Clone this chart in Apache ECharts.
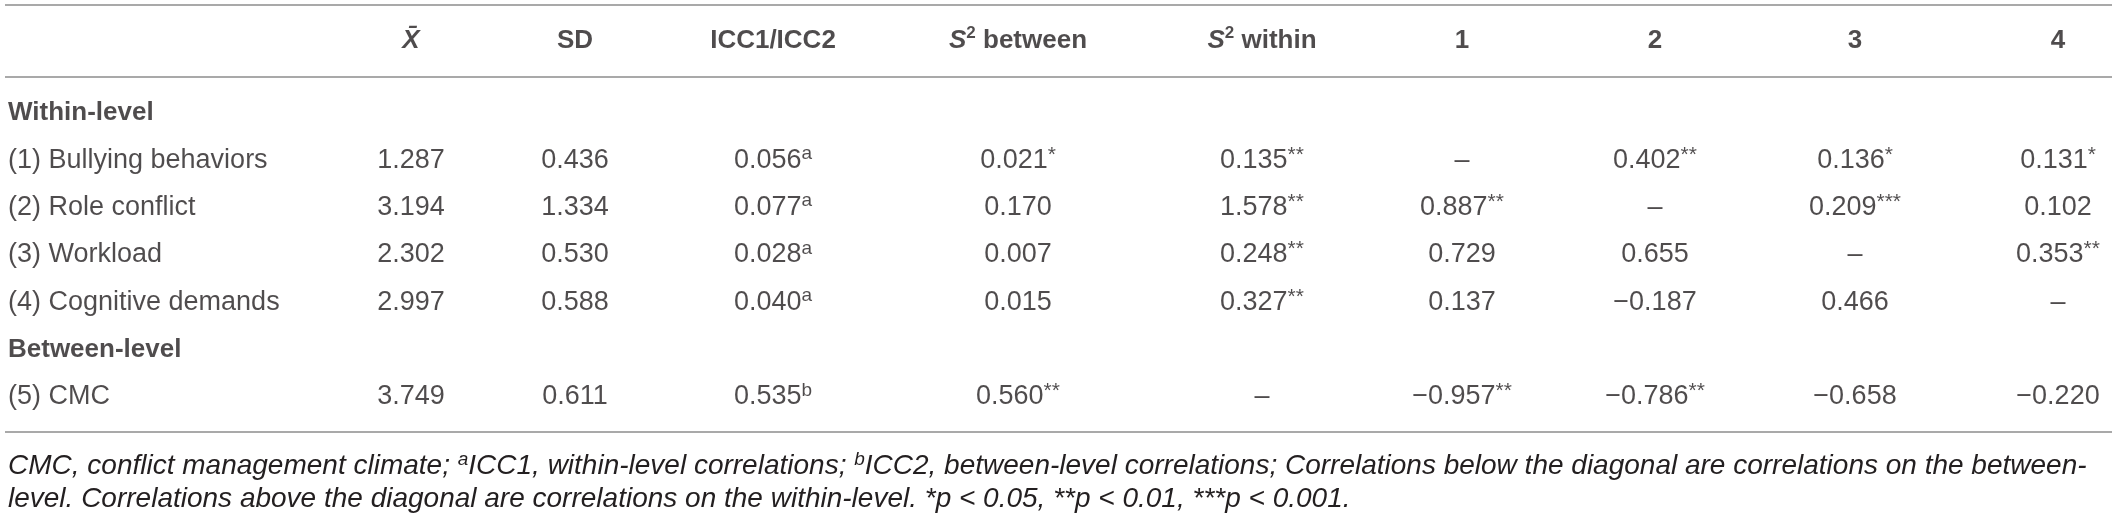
<!DOCTYPE html>
<html>
<head>
<meta charset="utf-8">
<script src="https://cdn.jsdelivr.net/npm/echarts@6.0.0/dist/echarts.min.js"></script>
<style>
html,body{margin:0;padding:0;background:#fff;}
#container{width:2124px;height:523px;}
</style>
</head>
<body>
<div id="container"></div>
<script>
// table content
var colHeaders = ['{it|X\u0304}', 'SD', 'ICC1/ICC2', '{it|S}{hsup|2} between', '{it|S}{hsup|2} within', '1', '2', '3', '4'];
var bodyRows = ['Within-level', '(1) Bullying behaviors', '(2) Role conflict', '(3) Workload', '(4) Cognitive demands', 'Between-level', '(5) CMC'];
var sectionRows = [0, 5];
var varRows = [1, 2, 3, 4, 6];

var meanVals = [1.287, 3.194, 2.302, 2.997, 3.749];
var sdVals = [0.436, 1.334, 0.530, 0.588, 0.611];
var iccVals = [0.056, 0.077, 0.028, 0.040, 0.535];
var iccNotes = ['a', 'a', 'a', 'a', 'b'];
var s2BetweenVals = [0.021, 0.170, 0.007, 0.015, 0.560];
var s2BetweenSig = ['*', '', '', '', '**'];
var s2WithinVals = [0.135, 1.578, 0.248, 0.327, null];
var s2WithinSig = ['**', '**', '**', '**', ''];
var corrVals = [
	[null, 0.402, 0.136, 0.131],
	[0.887, null, 0.209, 0.102],
	[0.729, 0.655, null, 0.353],
	[0.137, -0.187, 0.466, null],
	[-0.957, -0.786, -0.658, -0.220]
];
var corrSig = [
	['', '**', '*', '*'],
	['**', '', '***', ''],
	['', '', '', '**'],
	['', '', '', ''],
	['**', '**', '', '']
];
var noteLines = [
	'CMC, conflict management climate; {s|a}ICC1, within-level correlations; {s|b}ICC2, between-level correlations; Correlations below the diagonal are correlations on the between-',
	'level. Correlations above the diagonal are correlations on the within-level. *p < 0.05, **p < 0.01, ***p < 0.001.'
];

// layout
var W = 2124;
var colX = [411, 575, 773, 1018, 1262, 1462, 1655, 1855, 2058];
var labelX = 8;
var ruleY = [5, 77, 432];
var FONT = '"Liberation Sans", Arial, Helvetica, sans-serif';
var INK = '#231f20';

var fmt = function(v){
	if (v === null) return '\u2013';
	return (v < 0 ? '\u2212' : '') + Math.abs(v).toFixed(3);
};
var cell = function(v, mark, style){
	return fmt(v) + (mark ? '{' + style + '|' + mark + '}' : '');
};

var headerData = [], labelData = [], sectionData = [], cellData = [];
colHeaders.forEach(function(h, i){
	headerData.push({value: [colX[i], 0], text: h});
});
bodyRows.forEach(function(r, i){
	if (sectionRows.indexOf(i) >= 0) sectionData.push({value: [labelX, i], text: r});
	else labelData.push({value: [labelX, i], text: r});
});
varRows.forEach(function(row, k){
	var texts = [
		fmt(meanVals[k]),
		fmt(sdVals[k]),
		cell(iccVals[k], iccNotes[k], 'sup'),
		cell(s2BetweenVals[k], s2BetweenSig[k], 'star'),
		cell(s2WithinVals[k], s2WithinSig[k], 'star')
	];
	for (var j = 0; j < 4; j++) texts.push(cell(corrVals[k][j], corrSig[k][j], 'star'));
	texts.forEach(function(t, c){
		cellData.push({value: [colX[c], row], text: t});
	});
});

var bodyRich = {
	sup: {fontSize: 19, fontFamily: FONT, color: INK, verticalAlign: 'top', lineHeight: 17},
	star: {fontSize: 21, fontFamily: FONT, color: INK, verticalAlign: 'top', lineHeight: 24}
};
var textOf = function(p){ return p.data.text; };

var dom = document.getElementById('container');
var myChart = echarts.init(dom);
var option = {
	animation: false,
	backgroundColor: '#fff',
	title: {
		text: noteLines.join('\n'),
		left: labelX,
		top: 450,
		padding: 0,
		textStyle: {
			fontFamily: FONT,
			fontStyle: 'italic',
			fontWeight: 'normal',
			fontSize: 28,
			lineHeight: 33,
			color: INK,
			rich: {
				s: {fontFamily: FONT, fontStyle: 'italic', fontSize: 19, color: INK, verticalAlign: 'top', lineHeight: 17}
			}
		}
	},
	grid: [
		{left: 0, right: 0, top: 5, height: 72},
		{left: 0, right: 0, top: 89.5, height: 331}
	],
	xAxis: [
		{type: 'value', gridIndex: 0, min: 0, max: W, show: false},
		{type: 'value', gridIndex: 1, min: 0, max: W, show: false}
	],
	yAxis: [
		{type: 'category', gridIndex: 0, data: ['header'], show: false},
		{type: 'category', gridIndex: 1, data: bodyRows, inverse: true, show: false}
	],
	graphic: ruleY.map(function(y){
		return {
			type: 'line',
			shape: {x1: 5, y1: y, x2: 2112, y2: y},
			style: {stroke: '#a9a9a9', lineWidth: 2},
			silent: true
		};
	}),
	series: [
		{
			name: 'header', type: 'scatter', xAxisIndex: 0, yAxisIndex: 0,
			symbolSize: 0, silent: true, data: headerData,
			label: {
				show: true, position: 'inside', formatter: textOf,
				fontFamily: FONT, fontWeight: 'bold', fontSize: 26, color: INK, lineHeight: 32,
				rich: {
					it: {fontFamily: FONT, fontWeight: 'bold', fontStyle: 'italic', fontSize: 26, color: INK},
					hsup: {fontFamily: FONT, fontWeight: 'bold', fontSize: 17, color: INK, verticalAlign: 'top', lineHeight: 18}
				}
			}
		},
		{
			name: 'sections', type: 'scatter', xAxisIndex: 1, yAxisIndex: 1,
			symbolSize: 0, silent: true, data: sectionData,
			label: {
				show: true, position: 'right', distance: 0, formatter: textOf,
				fontFamily: FONT, fontWeight: 'bold', fontSize: 26, color: INK
			}
		},
		{
			name: 'labels', type: 'scatter', xAxisIndex: 1, yAxisIndex: 1,
			symbolSize: 0, silent: true, data: labelData,
			label: {
				show: true, position: 'right', distance: 0, formatter: textOf,
				fontFamily: FONT, fontSize: 27, color: INK
			}
		},
		{
			name: 'cells', type: 'scatter', xAxisIndex: 1, yAxisIndex: 1,
			symbolSize: 0, silent: true, data: cellData,
			label: {
				show: true, position: 'inside', formatter: textOf,
				fontFamily: FONT, fontSize: 27, color: INK, lineHeight: 32,
				rich: bodyRich
			}
		}
	]
};
if (option && typeof option === "object") {
	myChart.setOption(option, true);
}
</script>
</body>
</html>
